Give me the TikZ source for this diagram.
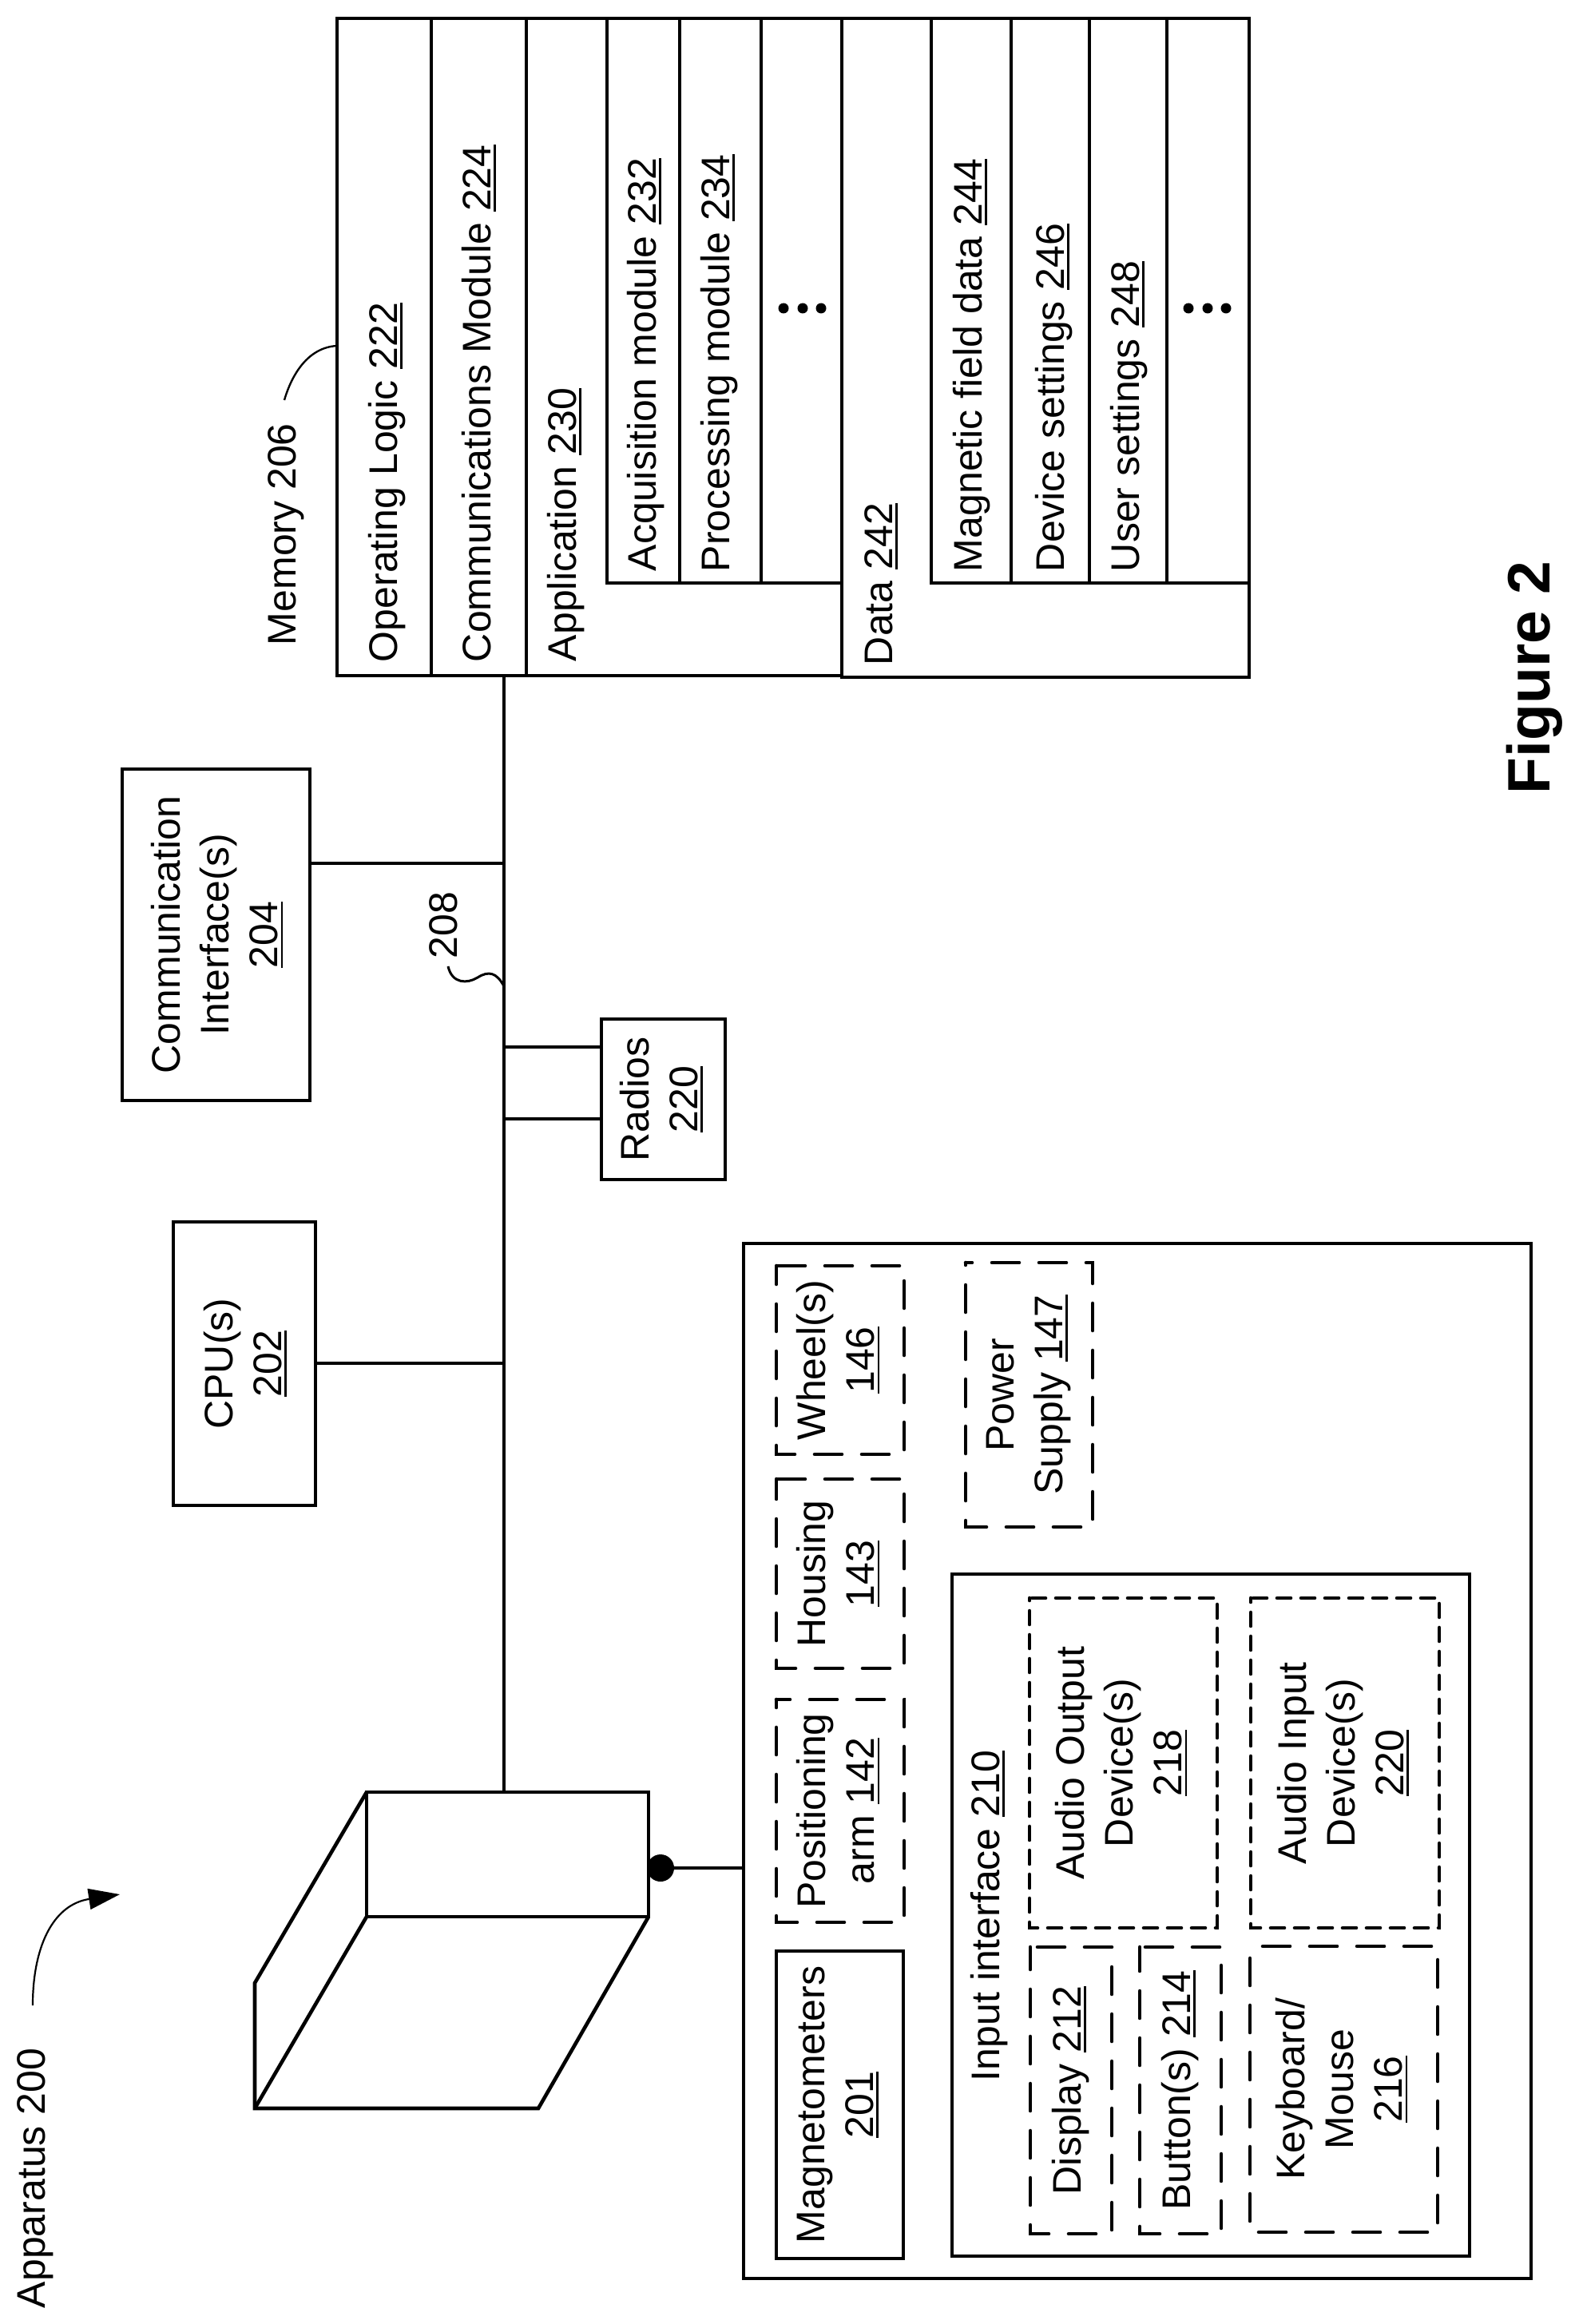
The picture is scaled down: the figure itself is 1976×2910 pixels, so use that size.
\documentclass[tikz,border=0pt]{standalone}
\usepackage{fontspec}
\setmainfont{Liberation Sans}
\usetikzlibrary{arrows.meta}
\newcommand{\ulnum}[1]{\setbox0=\hbox{#1}\leavevmode\rlap{\rule[-3.3pt]{\wd0}{1.3pt}}\box0}
\tikzset{
  x=0.5pt,y=-0.5pt,
  every node/.style={inner sep=0pt,outer sep=0pt,font=\fontsize{25}{30.5}\selectfont},
  boxn/.style={rotate=90,align=center,text depth=6pt},
  lbl/.style={rotate=90,anchor=base west},
  longdash/.style={line cap=round,dash pattern=on 17pt off 12.5pt},
  shortdash/.style={line cap=round,dash pattern=on 8.5pt off 6.5pt},
  dotn/.style={circle,fill=black,minimum size=6.5pt},
}
\newcommand{\bx}[7][]{\node[boxn,#1,minimum width={(#6-#4)*0.5pt},minimum height={(#5-#3)*0.5pt}] (#2) at ({(#3+#5)/2},{(#4+#6)/2}) {#7};}
\newcommand{\dbx}[8][longdash]{\bx{#2}{#3}{#4}{#5}{#6}{#8}
  \draw[#1,dash phase=#7] (#2.north east) -- (#2.south east) -- (#2.south west) -- (#2.north west) -- cycle;}
\begin{document}
\begin{tikzpicture}[line width=2.3pt]
\useasboundingbox (0,0) rectangle (1976,2910);
% memory block
\draw (422,23) rectangle (540,846);
\draw (540,23) rectangle (659,846);
\draw (659,23) rectangle (1054,846);
\draw (760,23) rectangle (851,730);
\draw (851,23) rectangle (953,730);
\draw (953,23) rectangle (1054,730);
\draw (1054,23) rectangle (1564,848);
\draw (1166,23) rectangle (1266,730);
\draw (1266,23) rectangle (1364,730);
\draw (1364,23) rectangle (1461,730);
\draw (1461,23) rectangle (1564,730);
\node[lbl] (opl) at (497,829) {Operating Logic \ulnum{222}};
\node[lbl] (cmm) at (614,829) {Communications Module \ulnum{224}};
\node[lbl] (app) at (721,828) {Application \ulnum{230}};
\node[lbl] (acq) at (821,715) {Acquisition module \ulnum{232}};
\node[lbl] (prc) at (913,716) {Processing module \ulnum{234}};
\node[lbl] (dat) at (1117,833) {Data \ulnum{242}};
\node[lbl] (mag) at (1229,716) {Magnetic field data \ulnum{244}};
\node[lbl] (dev) at (1332,716) {Device settings \ulnum{246}};
\node[lbl] (usr) at (1426,716) {User settings \ulnum{248}};
\node[dotn] (da1) at (981,386) {};
\node[dotn] (da2) at (1005,386) {};
\node[dotn] (da3) at (1028,386) {};
\node[dotn] (db1) at (1488,386) {};
\node[dotn] (db2) at (1512,386) {};
\node[dotn] (db3) at (1535,386) {};
\node[lbl] (memlbl) at (370,808) {Memory 206};
\coordinate (mema) at (356,501);
\coordinate (memb) at (422,433);
\draw[line width=1.2pt] (mema) .. controls (365,470) and (385,435) .. (memb);
% left boxes
\bx[draw,text depth=2pt]{comm}{153}{963}{388}{1378}{Communication\\Interface(s)\\\ulnum{204}}
\bx[draw,text depth=2.5pt]{cpu}{217}{1530}{395}{1885}{CPU(s)\\\ulnum{202}}
\bx[draw]{radios}{753}{1276}{908}{1477}{Radios\\\ulnum{220}}
% bus
\coordinate (busTop) at (631,846);
\coordinate (jComm) at (631,1081);
\coordinate (j208) at (631,1235);
\coordinate (jR1) at (631,1311);
\coordinate (jR2) at (631,1401);
\coordinate (jCPU) at (631,1707);
\bx[draw]{front}{459}{2244}{812}{2400}{}
\draw (busTop) -- (busTop |- front.east);
\draw (comm.south |- jComm) -- (jComm);
\draw (cpu.south |- jCPU) -- (jCPU);
\draw (radios.north |- jR1) -- (jR1);
\draw (radios.north |- jR2) -- (jR2);
\node[lbl] (l208) at (572,1200) {208};
\coordinate (s208) at (561,1210);
\draw[line width=1.5pt] (s208) .. controls (566,1232) and (585,1232) .. (598,1224) .. controls (612,1215) and (622,1218) .. (j208);
% device
\coordinate (bk1) at (319,2483);
\coordinate (bk2) at (319,2640);
\coordinate (bk3) at (674,2640);
\draw (front.north east) -- (bk1) -- (bk2) -- (bk3) -- (front.south west);
\draw (front.north west) -- (bk2);
% apparatus label
\node[lbl] (appar) at (56,2890) {Apparatus 200};
\coordinate (arra) at (41,2511);
\coordinate (arrb) at (150,2372);
\draw[line width=1.1pt,-{Triangle[length=19.5pt,width=13pt]}] (arra) .. controls (41,2440) and (65,2385) .. (arrb);
% outer frame
\bx[draw]{outer}{931}{1557}{1917}{2853}{}
\node[circle,fill=black,minimum size=17pt] (dot) at (827,2339) {};
\draw (dot) -- (dot -| outer.north);
\dbx{wheel}{972}{1585}{1132}{1821}{28.5pt}{Wheel(s)\\\ulnum{146}}
\dbx{housing}{972}{1852}{1132}{2089}{28.5pt}{Housing\\\ulnum{143}}
\dbx{posarm}{972}{2128}{1132}{2407}{8.5pt}{Positioning\\arm \ulnum{142}}
\bx[draw]{magn}{972}{2443}{1131}{2828}{Magnetometers\\\ulnum{201}}
\dbx{power}{1209}{1581}{1368}{1912}{13pt}{Power\\Supply \ulnum{147}}
\bx[draw]{inputif}{1192}{1971}{1840}{2825}{}
\node[lbl] (inputlbl) at (1251,2606) {Input interface \ulnum{210}};
\dbx[shortdash]{aout}{1289}{2001}{1524}{2414}{13.5pt}{Audio Output\\Device(s)\\\ulnum{218}}
\dbx[shortdash]{ain}{1566}{2001}{1802}{2414}{13.5pt}{Audio Input\\Device(s)\\\ulnum{220}}
\dbx{display}{1290}{2438}{1392}{2797}{25pt}{Display \ulnum{212}}
\dbx{buttons}{1427}{2438}{1529}{2797}{26pt}{Button(s) \ulnum{214}}
\dbx{keyb}{1565}{2437}{1800}{2795}{21.5pt}{Keyboard/\\Mouse\\\ulnum{216}}
% figure label
\node[lbl,font=\fontsize{37.5}{45}\selectfont\bfseries] (figlbl) at (1940,994) {Figure 2};
\end{tikzpicture}
\end{document}
